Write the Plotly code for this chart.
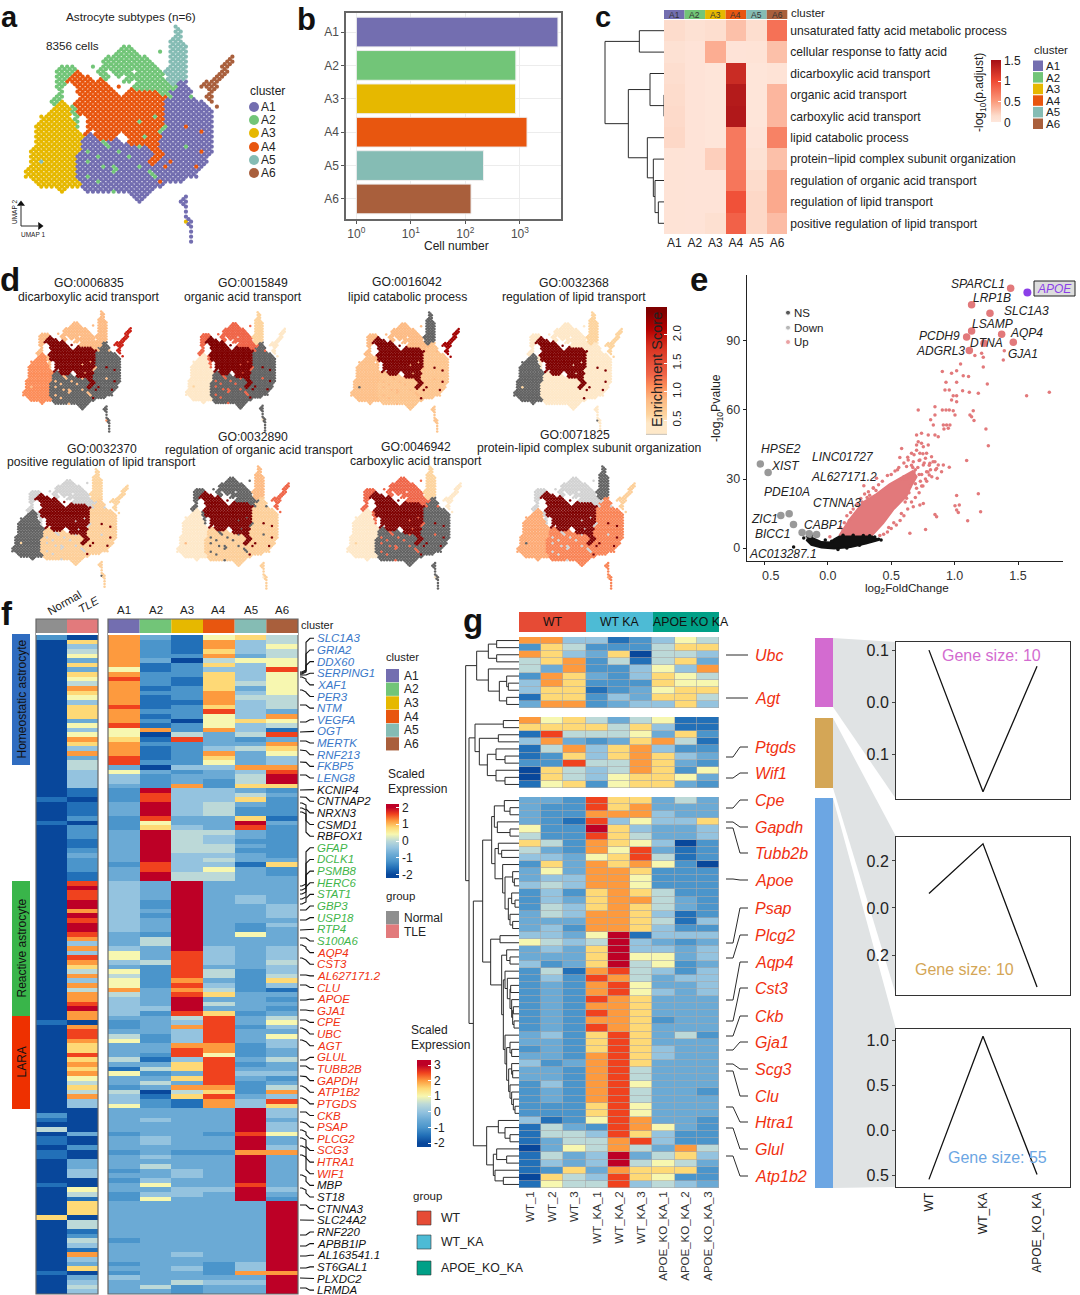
import plotly.graph_objects as go

W, H = 1080, 1295
FONT = "Liberation Sans"
DARK = "#222222"
CLUSTERS = ["A1", "A2", "A3", "A4", "A5", "A6"]
CL_COLORS = ["#736eb0", "#72c578", "#e6b800", "#e8560f", "#85bcb4", "#a95f3c"]

# ---------- panel a / d: UMAP raster (digit = cluster, . = empty)
UMAP_ROWS = [
 ".......... .......... .........5 .......... .",
 ".......... .......... .........5 5......... .",
 ".......... .......... .........5 5......... .",
 ".......... .......... ........55 5......... .",
 ".......... .........2 2.......55 55........ .",
 ".......... ........22 22....2.55 55........ .",
 ".......... ......2222 2222....55 55........ 6",
 ".......... .....22222 22222...55 55.......6 6",
 ".......222 ...2.22222 222222..55 55......66 .",
 "......2222 4...22.222 2.22222555 55......66 .",
 "......2224 444..22.2. 2222222.55 55.....66. .",
 "......2244 444444...2 2.22222255 11...666.. .",
 "......22.. 4444444.4. .222222222 11..6666.. .",
 ".......2.. 44444444.. 4444442211 111...6... .",
 "......22.. .444444444 4444444421 112..66... .",
 ".....223.. 4444444444 4444444111 11111.6... .",
 "......3332 4444444444 4444444111 111111.6.. .",
 ".....33332 4444444444 4444444111 1111111... .",
 "...333333. 2.44444444 4444424111 1111111... .",
 "...3333333 2.44444444 4424444111 1111111... .",
 "..33333333 2.44444444 4444444211 1411111... .",
 "..33333333 3.4.444444 4444442111 1111411... .",
 "..33333333 33114444.. 4442444111 1111111... .",
 "..33333333 311112111. 4444441111 1111111... .",
 "..33333333 3111112111 1121441111 1211111... .",
 ".333333333 3121111121 1111144111 1111411... .",
 ".333333333 1111211111 2111144111 111111.... .",
 ".335333333 1121111111 1111441141 111111.... .",
 ".333333333 1111121211 1121111411 11141..... .",
 "3333333333 1111111211 1111211111 1111...... .",
 "3333333333 1121111111 1111121111 1111...... .",
 "..33333333 3111211111 1111114111 1......... .",
 "...3333333 3111111111 1111111... .......... .",
 ".......3.. ..11111211 11111..... .......... .",
 ".......... .......... .111...... .1........ .",
 ".......... .......... ..1....... 11........ .",
 ".......... .......... .......... .1........ .",
 ".......... .......... .......... .1........ .",
 ".......... .......... .......... .1........ .",
 ".......... .......... .......... .31....... .",
 ".......... .......... .......... ..1....... .",
 ".......... .......... .......... ..1....... .",
 ".......... .......... .......... ..1....... .",
 ".......... .......... .......... ..1....... .",
]
DRAW_ORDER_A = ["3", "1", "4", "2", "5", "6"]
DRAW_ORDER_D = ["3", "1", "2", "5", "6", "4"]

# ---------- panel b
CELL_COUNTS = [4990, 841, 832, 1350, 214, 126]

# ---------- panel c
GO_TERMS = ["unsaturated fatty acid metabolic process", "cellular response to fatty acid",
            "dicarboxylic acid transport", "organic acid transport", "carboxylic acid transport",
            "lipid catabolic process", "protein\u2212lipid complex subunit organization",
            "regulation of organic acid transport", "regulation of lipid transport",
            "positive regulation of lipid transport"]
GO_P = [[.15, .08, .12, .30, .12, .75],
        [.08, .05, .40, .05, .06, .30],
        [.12, .05, .03, 1.25, .03, .06],
        [.15, .05, .03, 1.40, .03, .35],
        [.16, .05, .03, 1.42, .03, .35],
        [.17, .05, .03, .70, .05, .65],
        [.06, .05, .22, .70, .08, .30],
        [.06, .05, .05, .72, .15, .42],
        [.06, .05, .05, .95, .17, .42],
        [.06, .05, .10, .85, .17, .32]]

# ---------- panel d (score per cluster; None = not enriched, 0 = lowest)
GO_PANELS = [
 ("GO:0006835", "dicarboxylic acid transport", [None, .85, 1.1, 2.4, .85, 1.9]),
 ("GO:0015849", "organic acid transport", [None, 1.3, .45, 2.4, .6, .45]),
 ("GO:0016042", "lipid catabolic process", [.75, .85, .8, 2.4, None, 2.2]),
 ("GO:0032368", "regulation of lipid transport", [.45, .45, None, 2.4, .6, .6]),
 ("GO:0032370", "positive regulation of lipid transport", [.65, 0, None, 2.4, .6, .6]),
 ("GO:0032890", "regulation of organic acid transport", [.65, None, .45, 2.4, .85, 1.3]),
 ("GO:0046942", "carboxylic acid transport", [None, 1.3, .45, 2.4, .6, .45]),
 ("GO:0071825", "protein-lipid complex subunit organization", [1.15, 0, .95, 2.4, None, .65]),
]

# ---------- panel e
UP_CORE_X = [.09, .174, .279, .384, .489, .594, .67, .70, .66, .62, .516, .437, .345, .09]
UP_CORE_Y = [5.4, 12.6, 19.9, 23.5, 27.8, 31.2, 33.5, 31, 27.2, 22.5, 16.7, 10.9, 5.4, 5.4]
NS_CORE_X = [-.17, -.12, -.05, .02, .05, .09, .35, .40, .30, .18, .05, -.05, -.13, -.17]
NS_CORE_Y = [3.6, 4.4, 2.6, 2.4, 3.8, 5, 5, 3.5, 2, .5, -.2, .3, 1.4, 3.6]
UP_X = [1.047, .903, 1.016, .976, 1.068, 1.11, .932, 1.016, 1.258, .924, .958, 1.063, 1.116, 1.187, 1.747,
        1.568, .989, 1.016, .976, 1.016, .845, .713, .903, .932, .958, .989, .845, 1.147, 1.121, 1.003,
        1.134, 1.153, .811, .832, .911, .937, .963, .916, .95, 1.247, .739, .792, .845, .7, .871, 1.266,
        .582, 1.095, .713, .739, .7, .753, .792, .66, .726, .779, .818, .568, .634, .726, .845, .871, .805,
        .753, .858, .911, .958, .897, .8, .863, .779, .621, .674, .284, .358, .384, 1.016, 1.187, 1.003,
        1.037, 1.016, 1.029, 1.205, 1.103, .845, .858, .771, .647, .016, .726, .674, .621, .753, 1.16,
        1.213, 1.226, 1.392, 1.384, 1.226, .62, .66, .69, .72, .55, .60, .77, .74,
        .10, .13, .15, .18, .20, .23, .26, .29, .32, .36, .40, .43, .47, .50, .53, .56, .60, .63, .68, .70,
        .72, .75, .77, .80, .83, .85, .82, .78, .75, .72, .69, .66, .63, .60, .57, .54, .50, .47, .44, .41,
        .65, .68, .62, .71, .74, .76, .66, .69, .73, .59, .64, .67, .79, .81, .70, .61, .58, .52, .48, .35,
        .31, .27, .22, .17, .12, .38, .33]
UP_Y = [79.9, 76.7, 77, 75.9, 74.9, 74.5, 72, 72, 71.3, 68.7, 68.7, 68.3, 67.7, 67.2, 67.7,
        66.2, 66.2, 66.2, 64.3, 63.6, 61.4, 60, 60, 60, 60, 59.7, 57.8, 59.7, 57.8, 57.8,
        57, 55.4, 55.7, 53.5, 53.5, 53.5, 53.5, 51.7, 52, 51.7, 49.9, 49.1, 49.1, 49.1, 48.4, 44.5,
        43.3, 38, 46.2, 45.5, 44.8, 44, 44.8, 41.2, 41.2, 41.2, 39.7, 39.3, 38.3, 38.3, 37.5, 36.1, 36.8,
        36.1, 34.6, 36.1, 35.1, 33.2, 31.7, 30.3, 33.2, 35.4, 37.5, 27.1, 26.2, 30.3, 22.8, 23.6, 18.4,
        18.7, 16.5, 15.5, 15.8, 11.9, 14.6, 13.6, 8.1, 6.4, 4.9, 18.7, 18, 21.6, 19.4, 83.6,
        84.6, 82.9, 85.7, 81.7, 78.6, 31, 36, 34, 32, 34, 31, 30, 27,
        9, 11, 14, 15.5, 17, 19, 21.5, 23.5, 24.5, 26, 27.5, 29, 31.5, 32, 33.5, 35, 37, 39.5, 40.5, 42.5,
        38, 41, 39, 36, 37.5, 34, 31, 29, 27, 24, 22, 20, 17, 14, 12, 10, 8.5, 7, 6, 5.5,
        27, 33, 30, 35, 32, 37, 31, 28, 29, 29, 24, 35, 33, 34, 26, 20, 15, 11, 9, 7,
        22, 20, 15, 12, 8, 25, 23]
TOP_UP_X = [1.442, 1.134, 1.279, 1.134, 1.371, 1.095, 1.232, 1.463, 1.116]
TOP_UP_Y = [112.9, 105.7, 102, 94.3, 92.9, 91.7, 89, 89.4, 85.8]
APOE_XY = (1.574, 111)
DOWN_X = [-.532, -.471, -.305, -.371, -.271, -.203, -.147, -.089]
DOWN_Y = [36.5, 32.8, 14.9, 14.2, 10.3, 6.8, 6.2, 5.9]
NS_X = [-.27, -.15, -.1, .42, .4, -.19, -.16, -.13, -.02, .03, .12, .2, .28, .33, .37, .25, .15, .08]
NS_Y = [.5, 4, 6, 3.5, 3.8, 4.4, 5.2, 5.5, 3.5, 3, 5.6, 5.6, 5.5, 5.4, 4.8, 1.2, 0, -.6]
VOLCANO_LABELS = [("SPARCL1", 977.7, 284.3), ("LRP1B", 991.7, 298.3), ("SLC1A3", 1026, 311), ("LSAMP", 992.7, 324.3),
                  ("AQP4", 1026.7, 333.3), ("PCDH9", 939.3, 336), ("DTNA", 986, 343.3), ("GJA1", 1023.3, 354.3),
                  ("ADGRL3", 940.7, 351), ("HPSE2", 781, 449.3), ("XIST", 785, 466), ("LINC01727", 843.3, 457.3),
                  ("AL627171.2", 844, 477.3), ("PDE10A", 786.7, 492.3), ("CTNNA3", 836.7, 503.3), ("ZIC1", 764, 519.3),
                  ("CABP1", 823.3, 525), ("BICC1", 772.7, 534.3), ("AC013287.1", 783.3, 554.3)]

# ---------- panel f: levels 0..a per row: Normal, TLE, A1..A6
F_ROWS = """20831675 07821845 04821846 05821745 06822835 03830566 07812746 03612449 07822746 06921746
05821756 08812736 07822846 06812855 04811845 07912745 07822943 07812648 03820676 06912645
04682841 06605359 08719323 07822338 04812457 08812836 03912734 05922634 05304488 04632349
0442335a 0442325a 04328277 012a4432 01294453 10294472 013a4532 013a4522 013a4522 02293371
102633a3 02274392 023a5532 023a5432 013a5422 013a5532 023a5522 033a4432 023a4533 02294417
02394632 013a5532 013a5533 0943a333 0a43a333 0943a333 0943a343 0a42a343 0a42a334 0843a334
0a42a334 0943a333 0a43a324 0a43a323 0932a363 0835a333 0435a333 0843a434 04639434 09639434
08459435 07329334 05629524 08529525 04628327 08629424 05838521 08539733 0843a332 0943a533
0a44a332 08429723 08335935 10234936 08238924 09334933 09524936 08624934 07338824 07339823
09329623 07514935 08337923 07157933 08623944 06337932 05353923 07238825 05505728 08417934
04421849 04621847 003333a4 203333a4 103433a3 003333a4 503333a4 03233296 103433a3 103433a3
023333a4 10232288 103433a3 033333a3 033533a3 042343a3 043343a3 002433a3 10363393 063344a4
052443a3 012633a2 0733333a 0733333a 0733333a 7033333a 0533333a 0533333a 0133333a 0233333a
0523333a 0433333a 0133333a 0833433a 0433333a 0323324a 0733424a 10233288 0343333a 0433544a
0535233a 0433233a""".split()
F_GENES_BLUE = ["SLC1A3", "GRIA2", "DDX60", "SERPING1", "XAF1", "PER3", "NTM", "VEGFA", "OGT", "MERTK", "RNF213", "FKBP5", "LENG8"]
F_GENES_BLACK1 = ["KCNIP4", "CNTNAP2", "NRXN3", "CSMD1", "RBFOX1"]
F_GENES_GREEN = ["GFAP", "DCLK1", "PSMB8", "HERC6", "STAT1", "GBP3", "USP18", "RTP4", "S100A6"]
F_GENES_RED = ["AQP4", "CST3", "AL627171.2", "CLU", "APOE", "GJA1", "CPE", "UBC", "AGT", "GLUL", "TUBB2B", "GAPDH",
               "ATP1B2", "PTGDS", "CKB", "PSAP", "PLCG2", "SCG3", "HTRA1", "WIF1"]
F_GENES_BLACK2 = ["MBP", "ST18", "CTNNA3", "SLC24A2", "RNF220", "APBB1IP", "AL163541.1", "ST6GAL1", "PLXDC2", "LRMDA"]
F_GENE_ROW_Y = [672, 673, 674, 675, 677, 690, 705, 722, 732, 741, 750, 762, 775, 790, 797, 803, 808, 812,
                886, 890, 894, 899, 904, 910, 920, 930, 938,
                945, 958, 975, 985, 1000, 1010, 1020, 1028, 1040, 1060, 1066, 1076, 1086, 1098, 1112, 1122, 1130,
                1138, 1146, 1155, 1175, 1188, 1205, 1220, 1235, 1246, 1256, 1268, 1278, 1288]

# ---------- panel g
G1_ROWS = "884412465 275222577 874370554 578251573 538224648 287324765 487222766 477123677 177243775 388234474".split()
G2_ROWS = "867535611 777757411 195556372 483237851 158478422 127478743 229558732 075458726 075467763 167267732".split()
G3_ROWS = """332977353 322978333 322888433 321946447 622a74334 522975334 752876402 532869312 443679512 273878620
363887222 344886222 454886222 242787522 243788532 254787532 354887412 333887514 342887422 4436a1444
6545a4323 3437a4434 3337a6634 4237a5623 251895424 242985344 232896334 232896434 232987333 232887333
232987333 232887233 232987333 342797352 332797333 232797433 332897433 423897333 332895333 332895333
242896333 232895332 232895333 222796333 222796333 412698332 153298632 155497422 135589422 036585385
1534a3574 1434a5653 127387772 075497622 165594543""".split()
G_SAMPLES = ["WT_1", "WT_2", "WT_3", "WT_KA_1", "WT_KA_2", "WT_KA_3", "APOE_KO_KA_1", "APOE_KO_KA_2", "APOE_KO_KA_3"]
G_LABELS = [("Ubc", 655, 655), ("Agt", 698, 698), ("Ptgds", 747, 757), ("Wif1", 773, 778), ("Cpe", 800, 808),
            ("Gapdh", 827, 822), ("Tubb2b", 853, 828), ("Apoe", 880, 879), ("Psap", 908, 943), ("Plcg2", 935, 958),
            ("Aqp4", 962, 1000), ("Cst3", 988, 1021), ("Ckb", 1016, 1036), ("Gja1", 1042, 1050), ("Scg3", 1069, 1064),
            ("Clu", 1096, 1071), ("Htra1", 1122, 1107), ("Glul", 1149, 1128), ("Atp1b2", 1176, 1156)]
GROUPS = ["WT", "WT_KA", "APOE_KO_KA"]
TREND_1 = [0.1, -0.171, 0.069]
TREND_2 = [0.062, 0.273, -0.336]
TREND_3 = [-0.545, 1.05, -0.49]

LEVEL_COLORS = ["#08479b", "#2270b8", "#4b95cb", "#6baad5", "#94c3df", "#bcd9d8",
                "#f7f7b0", "#fed976", "#fd9a3e", "#f0421e", "#bd0026"]

# ---------- machinery
traces, shapes, annots = [], [], []
layout_axes = {}
_n = [1]


def new_axes(box, xr, yr, xkw=None, ykw=None):
    _n[0] += 1
    n = _n[0]
    x0, y0, x1, y1 = box
    bx = dict(domain=[x0 / W, x1 / W], range=xr, anchor=f"y{n}", showgrid=False, zeroline=False,
              showticklabels=False, ticks="", showline=False, fixedrange=True)
    by = dict(domain=[1 - y1 / H, 1 - y0 / H], range=yr, anchor=f"x{n}", showgrid=False, zeroline=False,
              showticklabels=False, ticks="", showline=False, fixedrange=True)
    bx.update(xkw or {})
    by.update(ykw or {})
    layout_axes[f"xaxis{n}"] = bx
    layout_axes[f"yaxis{n}"] = by
    return f"x{n}", f"y{n}"


def txt(x, y, s, size=11.5, color=DARK, anchor="left", angle=0, **kw):
    annots.append(dict(x=x, y=y, xref="x", yref="y", text=s, showarrow=False, xanchor=anchor, yanchor="middle",
                       textangle=angle, font=dict(size=size, color=color, family=FONT), borderpad=0, **kw))


def rect(x0, y0, x1, y1, fill="rgba(0,0,0,0)", line=None, lw=1, layer="above"):
    shapes.append(dict(type="rect", xref="x", yref="y", x0=x0, y0=y0, x1=x1, y1=y1, fillcolor=fill, layer=layer,
                       line=dict(color=line or "rgba(0,0,0,0)", width=lw if line else 0)))


def poly(pts, fill, layer="below"):
    path = "M" + " L".join(f"{a},{b}" for a, b in pts) + " Z"
    shapes.append(dict(type="path", xref="x", yref="y", path=path, fillcolor=fill, line=dict(width=0), layer=layer))


seg_x, seg_y = [], []
lead_x, lead_y = [], []


def seg(*pts):
    for a, b in pts:
        seg_x.append(a)
        seg_y.append(b)
    seg_x.append(None)
    seg_y.append(None)


def dendro(node, hx, leaf_y, leaf_x):
    """node = leaf index or (height, left, right). Returns (x, y) of the node."""
    if isinstance(node, int):
        return leaf_x, leaf_y[node]
    h, a, b = node
    x = hx(h)
    xa, ya = dendro(a, hx, leaf_y, leaf_x)
    xb, yb = dendro(b, hx, leaf_y, leaf_x)
    seg((xa, ya), (x, ya), (x, yb), (xb, yb))
    return x, (ya + yb) / 2


def shift(node, off):
    if isinstance(node, int):
        return node + off
    return (node[0], shift(node[1], off), shift(node[2], off))


def level_scale(lo, hi, z0, dz):
    stops = [[0, LEVEL_COLORS[0]]]
    for d, c in enumerate(LEVEL_COLORS):
        p = (z0 + dz * d - lo) / (hi - lo)
        if 0 < p < 1:
            stops.append([p, c])
    stops.append([1, LEVEL_COLORS[-1]])
    return stops


def lv(rows):
    return [[int(ch, 16) for ch in r] for r in rows]


def cbar(x, ytop, length, thick, vals, texts=None, size=11.5, **kw):
    d = dict(x=x / W, xanchor="left", y=1 - ytop / H, yanchor="top", len=length, lenmode="pixels", thickness=thick,
             thicknessmode="pixels", xpad=0, ypad=0, outlinewidth=0, tickvals=vals, ticktext=texts or [str(v) for v in vals],
             ticks="inside", ticklen=3, tickcolor="white", tickfont=dict(size=size, color=DARK, family=FONT))
    d.update(kw)
    return d


# ---------- panel letters
for s, x, y, sz in [("a", 9, 17, 29), ("b", 306, 19, 31), ("c", 603, 17, 29), ("d", 10, 279, 33), ("e", 699, 279, 33), ("f", 7, 613, 33), ("g", 473, 620, 33)]:
    txt(x, y, f"<b>{s}</b>", size=sz, color="#111111", anchor="center")

# ---------- parse UMAP raster
grid = [row.replace(" ", "").ljust(41, ".") for row in UMAP_ROWS]
umap_pts = {k: ([], []) for k in DRAW_ORDER_A}
for r, row in enumerate(grid):
    for c, ch in enumerate(row):
        if ch in umap_pts:
            umap_pts[ch][0].append(c)
            umap_pts[ch][1].append(r)
# points between raster cells where the cloud is continuous (majority cluster of the four corners)
for r in range(len(grid) - 1):
    for c in range(40):
        corners = [grid[r][c], grid[r][c + 1], grid[r + 1][c], grid[r + 1][c + 1]]
        filled = [ch for ch in corners if ch != "."]
        if len(filled) >= 3:
            ch = max(filled, key=filled.count)
            umap_pts[ch][0].append(c + .5)
            umap_pts[ch][1].append(r + .5)

# panel a
UX = lambda px: (px - 25.8) / 5.165
UY = lambda px: (px - 26.7) / 5
ax, ay = new_axes((20, 20, 245, 250), [UX(20), UX(245)], [UY(250), UY(20)])
for k in DRAW_ORDER_A:
    i = int(k) - 1
    traces.append(go.Scatter(x=umap_pts[k][0], y=umap_pts[k][1], mode="markers", xaxis=ax, yaxis=ay, name=CLUSTERS[i],
                             marker=dict(size=4.2, color=CL_COLORS[i]), hoverinfo="skip"))
txt(65, 16, "Astrocyte subtypes (n=6)", size=11.7)
txt(45, 45, "8356 cells", size=11.7)
txt(249, 91, "cluster", size=12)
ly = [107, 120, 133, 147, 160, 173]
traces.append(go.Scatter(x=[254] * 6, y=ly, mode="markers", marker=dict(size=10, color=CL_COLORS), hoverinfo="skip"))
for n_, y_ in zip(CLUSTERS, ly):
    txt(260, y_, n_, size=12)
txt(14, 212, "UMAP 2", size=6.5, anchor="center", angle=-90)
txt(33, 234, "UMAP 1", size=6.5, anchor="center")
seg((21, 226), (21, 206))
seg((21, 226), (38, 226))
traces.append(go.Scatter(x=[21, 40], y=[204, 226], mode="markers", marker=dict(size=7, color="#111", symbol=["triangle-up", "triangle-right"]), hoverinfo="skip"))

# panel b
bx, by = new_axes((346, 13, 561, 219), [-0.19, 3.754], [5.6, -0.57],
                  dict(type="log", showline=True, linecolor="#666", linewidth=1.5, mirror=True, showgrid=True,
                       gridcolor="#ececec", gridwidth=1, ticks="outside", ticklen=3, tickcolor="#555",
                       tickvals=[1, 10, 100, 1000], ticktext=["10<sup>0</sup>", "10<sup>1</sup>", "10<sup>2</sup>", "10<sup>3</sup>"],
                       showticklabels=True, tickfont=dict(size=12, color="#4d4d4d", family=FONT)),
                  dict(showline=True, linecolor="#666", linewidth=1.5, mirror=True, showgrid=True, gridcolor="#ececec",
                       ticks="outside", ticklen=3, tickcolor="#555", tickmode="array", tickvals=CLUSTERS, ticktext=CLUSTERS,
                       categoryorder="array", categoryarray=CLUSTERS, showticklabels=True,
                       tickfont=dict(size=12, color="#4d4d4d", family=FONT)))
traces.append(go.Bar(x=CELL_COUNTS, y=CLUSTERS, orientation="h", base=1, width=0.89, xaxis=bx, yaxis=by,
                     marker=dict(color=CL_COLORS, line=dict(color="#eeeeee", width=1)), hoverinfo="skip"))
txt(456, 246, "Cell number", size=12, anchor="center")

# panel c
cx, cy = new_axes((664, 20, 787.3, 234), [-0.5, 5.5], [9.5, -0.5],
                  dict(showticklabels=True, tickmode="array", tickvals=list(range(6)), ticktext=CLUSTERS,
                       tickfont=dict(size=12, color=DARK, family=FONT)),
                  dict(side="right", showticklabels=True, tickmode="array", tickvals=list(range(10)), ticktext=GO_TERMS,
                       ticklabelstandoff=2, tickfont=dict(size=12.1, color=DARK, family=FONT)))
C_SCALE = [[0, "#fee7dc"], [.1, "#fddccc"], [.33, "#fb9b7c"], [.66, "#ef4a33"], [1, "#a50f15"]]
traces.append(go.Heatmap(z=GO_P, xaxis=cx, yaxis=cy, zmin=0, zmax=1.5, colorscale=C_SCALE, hoverinfo="skip",
                         xgap=0, ygap=0, colorbar=cbar(991, 60.5, 62, 10, [0, 0.5, 1, 1.5], ["0", "0.5", "1", "1.5"], size=12)))
c_w = (787.3 - 664) / 6
for i, n_ in enumerate(CLUSTERS):
    rect(664 + c_w * i, 10, 664 + c_w * (i + 1), 19, fill=CL_COLORS[i])
    txt(664 + c_w * (i + .5), 14.5, n_, size=8.5, color="#333", anchor="center")
txt(790, 13, "cluster", size=11.5)
txt(980, 93, "-log<sub>10</sub>(p.adjust)", size=12, anchor="center", angle=-90)
txt(1033, 50, "cluster", size=11.5)
for i, n_ in enumerate(CLUSTERS):
    y_ = 60.5 + 11.6 * i
    rect(1033, y_, 1043, y_ + 10.5, fill=CL_COLORS[i])
    txt(1045, y_ + 5.5, n_, size=11.5)
C_TREE = (45, (148, 0, 1), (115, (180, 2, (222, 3, 4)), (172, 5, (190, 6, (195, 7, (205, 8, 9))))))
dendro(C_TREE, lambda h: 590 + h / 3, [20 + 21.4 * (i + .5) for i in range(10)], 664)

# panel d
GO_BOX = [(22, 310, 132, 433), (185, 311, 286, 432), (350, 311, 460, 433), (513, 311, 623, 433),
          (11, 468, 129, 588), (176, 465, 290, 590), (346, 465, 462, 590), (516, 465, 636, 590)]
GO_TITLE_POS = [(89, 283, 89, 297), (253, 283, 243, 297), (407, 282, 407, 297), (574, 283, 574, 297),
                (102, 449, 101, 462), (253, 437, 259, 450), (416, 447, 416, 461), (575, 435, 589, 448)]
S_LO, S_HI = 0.24, 2.49
S_STOPS = [(.24, "#bbbbbb"), (.27, "#fee8c8"), (.45, "#fee8c8"), (.6, "#fdd49e"), (.85, "#fdbb84"), (1.1, "#fc8d59"),
           (1.3, "#ef6548"), (1.8, "#d7301f"), (2.1, "#b30000"), (2.4, "#7f0000"), (2.49, "#7f0000")]
for (go_id, go_name, scores), box, (tx1, ty1, tx2, ty2) in zip(GO_PANELS, GO_BOX, GO_TITLE_POS):
    x_, y_ = new_axes(box, [-0.5, 40.5], [43.5, -0.5])
    for k in DRAW_ORDER_D:
        s = scores[int(k) - 1]
        mk = dict(size=2.5)
        if s is None:
            mk["color"] = "#636363"
        elif s == 0:
            mk["color"] = "#d2d2d2"
        else:
            mk.update(color=[s] * len(umap_pts[k][0]), coloraxis="coloraxis")
        traces.append(go.Scatter(x=umap_pts[k][0], y=umap_pts[k][1], mode="markers", xaxis=x_, yaxis=y_, marker=mk, hoverinfo="skip"))
    txt(tx1, ty1, go_id, size=12.2, anchor="center")
    txt(tx2, ty2, go_name, size=12.2, anchor="center")
txt(657, 370, "Enrichment Score", size=14.5, anchor="center", angle=-90)

# panel e
ex, ey = new_axes((746.7, 275, 1063, 561), [-0.64, 1.855], [-5.6, 118.6],
                  dict(showline=True, linecolor="#222", linewidth=1.2, ticks="outside", ticklen=3, tickcolor="#222",
                       tickvals=[-0.5, 0, 0.5, 1, 1.5], ticktext=["\u2002\u20020.5", "0.0", "0.5", "1.0", "1.5"], showticklabels=True,
                       tickfont=dict(size=12.5, color="#333", family=FONT)),
                  dict(showline=True, linecolor="#222", linewidth=1.2, ticks="outside", ticklen=3, tickcolor="#222",
                       tickvals=[0, 30, 60, 90], showticklabels=True, tickfont=dict(size=12.5, color="#333", family=FONT)))
UP_C, DOWN_C, NS_C = "#e2797b", "#999999", "#111111"
traces.append(go.Scatter(x=UP_CORE_X, y=UP_CORE_Y, mode="lines", fill="toself", fillcolor=UP_C, line=dict(color=UP_C, width=2), xaxis=ex, yaxis=ey, hoverinfo="skip"))
traces.append(go.Scatter(x=UP_X, y=UP_Y, mode="markers", marker=dict(size=3.5, color=UP_C), xaxis=ex, yaxis=ey, hoverinfo="skip"))
traces.append(go.Scatter(x=TOP_UP_X, y=TOP_UP_Y, mode="markers", marker=dict(size=7.5, color=UP_C), xaxis=ex, yaxis=ey, hoverinfo="skip"))
traces.append(go.Scatter(x=NS_CORE_X, y=NS_CORE_Y, mode="lines", fill="toself", fillcolor=NS_C, line=dict(color=NS_C, width=2), xaxis=ex, yaxis=ey, hoverinfo="skip"))
traces.append(go.Scatter(x=NS_X, y=NS_Y, mode="markers", marker=dict(size=3.5, color=NS_C), xaxis=ex, yaxis=ey, hoverinfo="skip"))
traces.append(go.Scatter(x=DOWN_X, y=DOWN_Y, mode="markers", marker=dict(size=7.5, color=DOWN_C), xaxis=ex, yaxis=ey, hoverinfo="skip"))
traces.append(go.Scatter(x=[APOE_XY[0]], y=[APOE_XY[1]], mode="markers", marker=dict(size=8, color="#8b3fe8"), xaxis=ex, yaxis=ey, hoverinfo="skip"))
for t_, x_, y_ in VOLCANO_LABELS:
    txt(x_, y_, f"<i>{t_}</i>", size=12, anchor="center")
rect(1034, 281, 1075, 296, fill="#dddddd", line="#222", lw=1)
txt(1054.5, 288.5, "<i>APOE</i>", size=12, color="#8b3fe8", anchor="center")
traces.append(go.Scatter(x=[788, 788, 788], y=[312.7, 327.7, 342], mode="markers", marker=dict(size=[5, 5, 5], color=[NS_C, DOWN_C, UP_C]), hoverinfo="skip"))
for t_, y_ in [("NS", 312.7), ("Down", 327.7), ("Up", 342)]:
    txt(793, y_, t_, size=11.5)
txt(717, 408, "-log<sub>10</sub>Pvalue", size=12.3, anchor="center", angle=-90)
txt(907, 588.5, "log<sub>2</sub>FoldChange", size=11.7, anchor="center")

# panel f
F_LV = lv(F_ROWS)
F_TOP, F_BOT = 635, 1294
n_f = len(F_LV)
f1x, f1y = new_axes((36, F_TOP, 98, F_BOT), [-0.5, 1.5], [n_f - .5, -.5])
f2x, f2y = new_axes((108, F_TOP, 298, F_BOT), [-0.5, 5.5], [n_f - .5, -.5])
traces.append(go.Heatmap(z=[[-2 + .4 * d for d in r[:2]] for r in F_LV], xaxis=f1x, yaxis=f1y, coloraxis="coloraxis2", hoverinfo="skip"))
traces.append(go.Heatmap(z=[[-2 + .4 * d for d in r[2:]] for r in F_LV], xaxis=f2x, yaxis=f2y, coloraxis="coloraxis2", hoverinfo="skip"))
rect(36, 619, 67, 633, fill="#8f8f8f")
rect(67, 619, 98, 633, fill="#e27a7c")
f_w = 190 / 6
for i, n_ in enumerate(CLUSTERS):
    rect(108 + f_w * i, 619, 108 + f_w * (i + 1), 633, fill=CL_COLORS[i])
    txt(108 + f_w * (i + .5), 610, n_, size=11.5, anchor="center")
rect(36, 619, 98, 1294, line="#666", lw=1.2)
rect(108, 619, 298, 1294, line="#666", lw=1.2)
rect(36, 633, 98, 635, fill="white")
rect(108, 633, 298, 635, fill="white")
txt(64, 603, "Normal", size=11.5, anchor="center", angle=-30)
txt(88, 605, "<i>TLE</i>", size=11.5, anchor="center", angle=-30)
txt(300, 625, "cluster", size=11)
for y0_, y1_, col, t_ in [(634, 765, "#2f6cc0", "Homeostatic astrocyte"), (881, 1016, "#39b54a", "Reactive astrocyte"), (1016, 1109, "#ee3000", "LARA")]:
    rect(12, y0_, 30, y1_, fill=col)
    txt(21, (y0_ + y1_) / 2, t_, size=12, color="#111", anchor="center", angle=-90)
genes = ([(g, "#3a78c9") for g in F_GENES_BLUE] + [(g, "#111111") for g in F_GENES_BLACK1] + [(g, "#3fb54a") for g in F_GENES_GREEN]
         + [(g, "#f03010") for g in F_GENES_RED] + [(g, "#111111") for g in F_GENES_BLACK2])
for i, (g, col) in enumerate(genes):
    yl = 638.3 + 11.64 * i
    txt(316, yl, f"<i>{g}</i>", size=11.5, color=col)
    ry = F_GENE_ROW_Y[i]
    d_ = ry - yl
    s1 = max(-4, min(4, d_))
    s2 = max(-2, min(2, d_ - s1))
    for a_, b_ in [(300, ry), (302, ry), (306, ry - s2), (306, yl + s1), (310, yl), (314, yl), (None, None)]:
        lead_x.append(a_)
        lead_y.append(b_)
txt(385, 657, "cluster", size=11.2)
for i, n_ in enumerate(CLUSTERS):
    y_ = 669 + 13.65 * i
    rect(386, y_, 399, y_ + 13.2, fill=CL_COLORS[i])
    txt(403, y_ + 6.8, n_, size=12)
txt(387, 774, "Scaled", size=12)
txt(387, 789, "Expression", size=12)
txt(385, 896, "group", size=11.5)
rect(386, 911, 399, 924.5, fill="#8f8f8f")
rect(386, 924.5, 399, 938, fill="#e27a7c")
txt(403, 918, "Normal", size=12)
txt(403, 932, "TLE", size=12)

# panel g
G_TOP = [(637, 708), (717, 788), (797, 1188)]
G_DATA = [G1_ROWS, G2_ROWS, G3_ROWS]
g_leaf_y = []
for (t_, b_), rows in zip(G_TOP, G_DATA):
    h_ = (b_ - t_) / len(rows)
    g_leaf_y += [t_ + h_ * (i + .5) for i in range(len(rows))]
    last = rows is G3_ROWS
    rect(519, t_, 719, b_, fill="#a8a8a8", layer="below")
    gx_, gy_ = new_axes((519, t_, 719, b_), [-.5, 8.5], [len(rows) - .5, -.5],
                        dict(showticklabels=last, tickmode="array", tickvals=list(range(9)), ticktext=G_SAMPLES, tickangle=-90,
                             tickfont=dict(size=11.5, color="#333", family=FONT)))
    traces.append(go.Heatmap(z=[[-2 + .5 * d for d in r] for r in lv(rows)], xaxis=gx_, yaxis=gy_, coloraxis="coloraxis3", xgap=.6, ygap=.6, hoverinfo="skip"))
for x0_, x1_, col in [(519, 586, "#e64b35"), (586, 653, "#4dbbd5"), (653, 719, "#00a087")]:
    rect(x0_, 612, x1_, 632, fill=col)
for x_, t_ in [(552.5, "WT"), (619.5, "WT KA"), (690.5, "APOE KO KA")]:
    txt(x_, 622, t_, size=12.3, color="#111", anchor="center")
T1 = (50, (85, (110, 0, 1), (110, 2, 3)), (85, 4, (118, (140, 5, (145, 6, 7)), (140, 8, 9))))
T2 = (45, (130, 0, 1), (58, (115, 2, 3), (82, (108, 4, (135, 5, 6)), (108, 7, (135, 8, 9)))))
R1 = (95, (103, (133, 0, (150, 1, 2)), (112, 3, (150, 4, 5))),
      (105, (115, 6, (125, 7, 8)), (128, 9, (135, (158, 10, (163, 11, 12)), (145, (155, 13, (165, 14, 15)), (150, 16, (158, 17, 18)))))))
R2 = (92, (120, 19, 20), (125, (140, 21, (150, 22, 23)),
      (130, (135, 24, (142, 25, (150, (152, 26, 27), (155, 28, (158, (160, 29, 30), (162, 31, 32)))))),
       (135, 33, (140, (150, 34, (155, 35, 36)), (146, (155, 37, (158, 38, 39)), (150, 40, (155, 41, (160, 42, (165, 43, 44))))))))))
R3 = (80, (115, 45, (135, 46, (150, 47, 48))), (100, (110, 49, (140, 50, 51)), (105, 52, (130, 53, 54))))
T3 = (40, (68, R1, R2), R3)
G_TREE = (17, T1, (27, shift(T2, 10), shift(T3, 20)))
dendro(G_TREE, lambda h: 460 + h / 3, g_leaf_y, 519)
for name, yl, ry in G_LABELS:
    txt(754, yl, f"<i>{name}</i>", size=16, color="#f03010")
    seg((726, ry), (733, ry), (740, yl), (748, yl))
txt(410, 1030, "Scaled", size=12)
txt(410, 1045, "Expression", size=12)
txt(412, 1196, "group", size=11.5)
for y_, col, t_ in [(1211, "#e64b35", "WT"), (1235, "#4dbbd5", "WT_KA"), (1261, "#00a087", "APOE_KO_KA")]:
    rect(417, y_, 431, y_ + 14, fill=col, line="#333", lw=.6)
    txt(440, y_ + 7, t_, size=12.3)

# side bars and trends
BAR_COL = ["#d36bd0", "#d4a656", "#6ca6e3"]
for (t_, b_), (bt, bb), col in zip([(638, 707), (718, 788), (798, 1188)], [(642, 799), (836.5, 995), (1029, 1187)], BAR_COL):
    poly([(833, t_), (896, bt), (896, bb), (833, b_)], "#e0e3e4")
    rect(815, t_, 833, b_, fill=col)
TREND_SPEC = [((896, 642, 1070, 799), [-.1847, .1155], TREND_1, [-.1, 0, .1], ["0.1", "0.0", "0.1"], "#d36bd0", 991, 655),
              ((896, 836.5, 1070, 995), [-.37, .304], TREND_2, [-.2, 0, .2], ["0.2", "0.0", "0.2"], "#d4a656", 964, 969),
              ((896, 1029, 1070, 1187), [-.63, 1.13], TREND_3, [-.5, 0, .5, 1], ["0.5", "0.0", "0.5", "1.0"], "#6ca6e3", 997, 1157)]
for i, (box, yr, vals, tv, tt, col, gx, gy) in enumerate(TREND_SPEC):
    last = i == 2
    x_, y_ = new_axes(box, [-.61, 2.61], yr,
                      dict(type="category", categoryorder="array", categoryarray=GROUPS, showline=True, mirror=True, linecolor="#333", linewidth=1,
                           showticklabels=last, ticks="", tickangle=-90,
                           tickfont=dict(size=12, color="#222", family=FONT)),
                      dict(showline=True, mirror=True, linecolor="#333", linewidth=1, ticks="outside", ticklen=3, tickmode="array", tickvals=tv,
                           ticktext=tt, showticklabels=True, tickfont=dict(size=16, color="#222", family=FONT)))
    traces.append(go.Scatter(x=GROUPS, y=vals, mode="lines", line=dict(color="#111", width=1.3), xaxis=x_, yaxis=y_, hoverinfo="skip"))
    txt(gx, gy, f"Gene size: {[10, 10, 55][i]}", size=16, color=col, anchor="center")

# overlay line work
traces.append(go.Scatter(x=seg_x, y=seg_y, mode="lines", line=dict(color="#2b2b2b", width=1), hoverinfo="skip", connectgaps=False))
traces.append(go.Scatter(x=lead_x, y=lead_y, mode="lines", line=dict(color="#111", width=1.1), hoverinfo="skip", connectgaps=False))

# ---------- figure
fig = go.Figure(data=traces)
fig.update_layout(
    width=W, height=H, margin=dict(l=0, r=0, t=0, b=0), showlegend=False,
    paper_bgcolor="white", plot_bgcolor="rgba(0,0,0,0)", font=dict(family=FONT, color=DARK),
    xaxis=dict(domain=[0, 1], range=[0, W], visible=False, fixedrange=True),
    yaxis=dict(domain=[0, 1], range=[H, 0], visible=False, fixedrange=True),
    shapes=shapes, annotations=annots,
    coloraxis=dict(cmin=S_LO, cmax=S_HI, colorscale=[[(v - S_LO) / (S_HI - S_LO), c] for v, c in S_STOPS],
                   colorbar=cbar(646, 307, 128, 21, [.5, 1, 1.5, 2], ["0.5", "1.0", "1.5", "2.0"], size=11.5, tickangle=-90)),
    coloraxis2=dict(cmin=-2.2, cmax=2.2, colorscale=level_scale(-2.2, 2.2, -2, .4),
                    colorbar=cbar(386, 804, 74, 13, [-2, -1, 0, 1, 2], size=12)),
    coloraxis3=dict(cmin=-2.25, cmax=3.32, colorscale=level_scale(-2.25, 3.32, -2, .5),
                    colorbar=cbar(417, 1060, 87, 14, [-2, -1, 0, 1, 2, 3], size=12)),
)
fig.update_layout(**layout_axes)
fig.write_html("out.html", config={"displayModeBar": False},
               post_script="document.body.style.margin='0';document.body.style.overflow='hidden';")
